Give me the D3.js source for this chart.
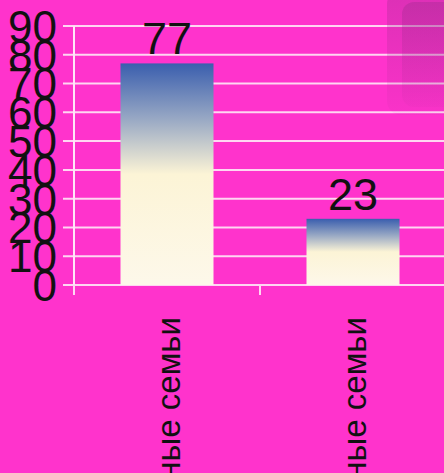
<!DOCTYPE html>
<html>
<head>
<meta charset="utf-8">
<script src="https://cdn.jsdelivr.net/npm/d3@7"></script>
<style>
  html, body { margin: 0; padding: 0; background: #ff33cc; overflow: hidden; }
  svg { display: block; font-family: "Liberation Sans", Arial, sans-serif; }
</style>
</head>
<body>
<div id="chart"></div>
<script>
// chart data
var categories = ["Полные семьи", "Неполные семьи"];
var values = [77, 23];
var yTicks = [0, 10, 20, 30, 40, 50, 60, 70, 80, 90];

var w = 444, h = 473;
var left = 74, right = 446, top0 = 26, base = 285;

var svg = d3.select("#chart").append("svg")
  .attr("width", w)
  .attr("height", h);

var defs = svg.append("defs");
var grad = defs.append("linearGradient")
  .attr("id", "barGrad")
  .attr("x1", 0).attr("y1", 0).attr("x2", 0).attr("y2", 1);
grad.append("stop").attr("offset", "0%").attr("stop-color", "#3a5eae");
grad.append("stop").attr("offset", "25%").attr("stop-color", "#98a8c4");
grad.append("stop").attr("offset", "50%").attr("stop-color", "#fcf4d6");
grad.append("stop").attr("offset", "100%").attr("stop-color", "#fdf8ea");

var x = d3.scaleBand()
  .domain(categories)
  .range([left, right])
  .paddingInner(0.5)
  .paddingOuter(0.25);

var y = d3.scaleLinear()
  .domain([0, 90])
  .range([base, top0]);

// gridlines + left ticks
svg.append("g").selectAll("line")
  .data(yTicks)
  .enter().append("line")
    .attr("x1", left - 11)
    .attr("x2", w)
    .attr("y1", function(d) { return y(d); })
    .attr("y2", function(d) { return y(d); })
    .attr("stroke", "#ffd6f2")
    .attr("stroke-width", 2);

// y axis line
svg.append("line")
  .attr("x1", left).attr("x2", left)
  .attr("y1", y(90)).attr("y2", base + 10)
  .attr("stroke", "#ffe6f7")
  .attr("stroke-width", 2);

// x ticks on band edges
var bounds = [left, left + x.step(), left + 2 * x.step()];
svg.append("g").selectAll("line")
  .data(bounds)
  .enter().append("line")
    .attr("x1", function(d) { return d; })
    .attr("x2", function(d) { return d; })
    .attr("y1", base)
    .attr("y2", base + 10)
    .attr("stroke", "#ffd6f2")
    .attr("stroke-width", 2);

// y tick labels
svg.append("g").selectAll("text")
  .data(yTicks)
  .enter().append("text")
    .attr("x", left - 17)
    .attr("y", function(d) { return y(d); })
    .attr("dy", "0.36em")
    .attr("text-anchor", "end")
    .attr("font-size", 44)
    .attr("fill", "#111")
    .text(function(d) { return d; });

// bars
svg.append("g").selectAll("rect")
  .data(values)
  .enter().append("rect")
    .attr("x", function(d, i) { return x(categories[i]); })
    .attr("y", function(d) { return y(d); })
    .attr("width", x.bandwidth())
    .attr("height", function(d) { return base - y(d); })
    .attr("fill", "url(#barGrad)");

// value labels
svg.append("g").selectAll("text")
  .data(values)
  .enter().append("text")
    .attr("x", function(d, i) { return x(categories[i]) + x.bandwidth() / 2; })
    .attr("y", function(d) { return y(d) - 9; })
    .attr("text-anchor", "middle")
    .attr("font-size", 45)
    .attr("fill", "#111")
    .text(function(d) { return d; });

// category labels, rotated
svg.append("g").selectAll("text")
  .data(categories)
  .enter().append("text")
    .attr("transform", function(d) {
      return "translate(" + (x(d) + x.bandwidth() / 2 + 13) + "," + 317 + ") rotate(-90)";
    })
    .attr("text-anchor", "end")
    .attr("font-size", 33)
    .attr("fill", "#111")
    .text(function(d) { return d; });

// faint overlay in the top right corner
var ov = defs.append("linearGradient")
  .attr("id", "ovGrad")
  .attr("x1", 0).attr("y1", 0).attr("x2", 0).attr("y2", 1);
ov.append("stop").attr("offset", "0%").attr("stop-color", "#9a2a8c").attr("stop-opacity", 0.35);
ov.append("stop").attr("offset", "100%").attr("stop-color", "#9a2a8c").attr("stop-opacity", 0.05);
svg.append("rect")
  .attr("x", 387).attr("y", -10)
  .attr("width", 80).attr("height", 125)
  .attr("rx", 14)
  .attr("fill", "url(#ovGrad)");
svg.append("rect")
  .attr("x", 402).attr("y", 2)
  .attr("width", 60).attr("height", 105)
  .attr("rx", 12)
  .attr("fill", "url(#ovGrad)");
</script>
</body>
</html>
